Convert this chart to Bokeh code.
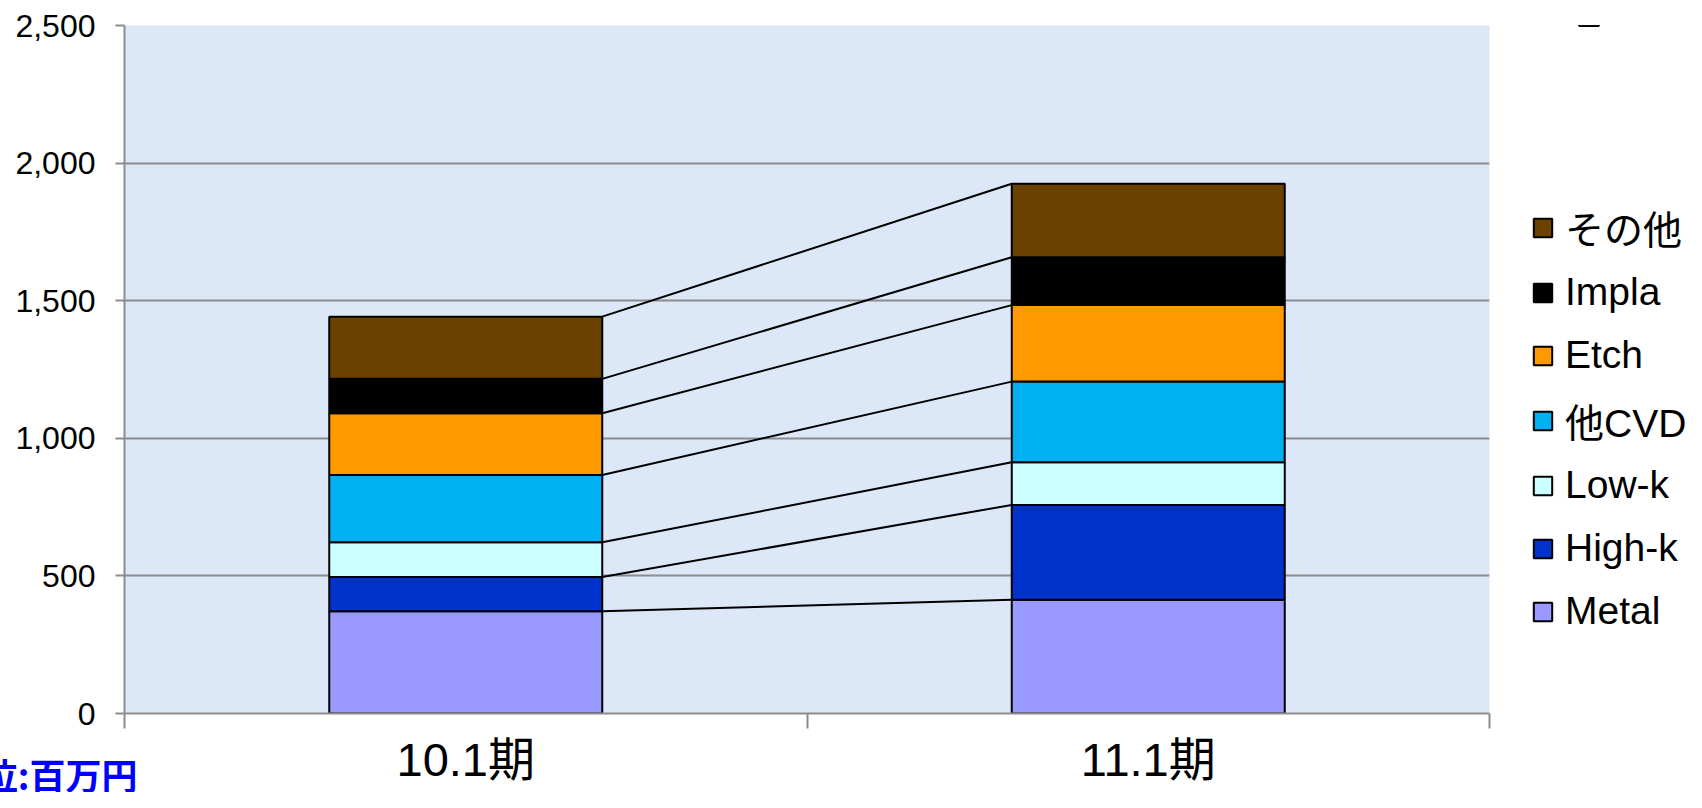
from bokeh.plotting import figure
from bokeh.layouts import row
from bokeh.models import (Range1d, FixedTicker, NumeralTickFormatter, LinearAxis, Label,
                          Legend, LegendItem, ColumnDataSource)
from bokeh.embed import file_html
from bokeh.resources import INLINE

# ---- data ----
categories = ["10.1期", "11.1期"]
series = ["Metal", "High-k", "Low-k", "他CVD", "Etch", "Impla", "その他"]
metal = [372, 413]
high_k = [124, 345]
low_k = [126, 155]
other_cvd = [245, 293]
etch = [224, 278]
impla = [125, 174]
others = [226, 267]
colors = ["#9999FF", "#0033CC", "#CCFFFF", "#00B0F0", "#FF9900", "#000000", "#6B4100"]
y_ticks = [0, 500, 1000, 1500, 2000, 2500]
unit_label = "単位:百万円"

FONT = "Liberation Sans, Noto Sans CJK JP"

values = [metal, high_k, low_k, other_cvd, etch, impla, others]
xpos = [0.5 + i for i in range(len(categories))]
data = {"x": xpos}
for name, vals in zip(series, values):
    data[name] = vals
src = ColumnDataSource(data)

# ---------------- main chart ----------------
p = figure(width=1491, height=792, output_backend="svg", toolbar_location=None,
           x_range=Range1d(0, 2), y_range=Range1d(0, 2500),
           min_border_left=124, min_border_right=2, min_border_top=25,
           min_border_bottom=79)
p.background_fill_color = "#DCE8F7"
p.border_fill_color = "white"
p.outline_line_color = None

renderers = p.vbar_stack(series, x="x", width=0.4, source=src, color=colors,
                         line_color="black", line_width=2)

# connector lines between bar tops of each stacked segment
bw = 0.4
cum = [[0, 0]]
for vals in values:
    cum.append([cum[-1][0] + vals[0], cum[-1][1] + vals[1]])
x0 = [xpos[0] + bw / 2] * len(series)
x1 = [xpos[1] - bw / 2] * len(series)
y0 = [c[0] for c in cum[1:]]
y1 = [c[1] for c in cum[1:]]
p.segment(x0=x0, y0=y0, x1=x1, y1=y1, line_color="black", line_width=2)

# grid
p.xgrid.visible = False
p.ygrid.ticker = FixedTicker(ticks=y_ticks)
p.ygrid.grid_line_color = "#8C8C8C"
p.ygrid.grid_line_width = 2

# y axis
p.yaxis.ticker = FixedTicker(ticks=y_ticks)
p.yaxis.formatter = NumeralTickFormatter(format="0,0")
p.yaxis.major_label_text_font = FONT
p.yaxis.major_label_text_font_size = "32px"
p.yaxis.major_label_text_color = "black"
p.yaxis.major_label_standoff = 20
p.yaxis.major_tick_in = 0
p.yaxis.major_tick_out = 9
p.yaxis.minor_tick_line_color = None
p.yaxis.axis_line_color = "#8C8C8C"
p.yaxis.axis_line_width = 2
p.yaxis.major_tick_line_color = "#8C8C8C"
p.yaxis.major_tick_line_width = 2

# x axis line with tick marks at the category boundaries
p.xaxis.ticker = FixedTicker(ticks=[], minor_ticks=[0, 1, 2])
p.xaxis.major_tick_in = 0
p.xaxis.major_tick_out = 15
p.xaxis.major_tick_line_color = None
p.xaxis.minor_tick_in = 0
p.xaxis.minor_tick_out = 15
p.xaxis.minor_tick_line_color = "#8C8C8C"
p.xaxis.minor_tick_line_width = 2
p.xaxis.axis_line_color = "#8C8C8C"
p.xaxis.axis_line_width = 2

# unit label (partly cut off at the left edge, as in the original)
p.add_layout(Label(x=13, y=7, x_units="screen", y_units="screen", text=unit_label,
                   text_font="Noto Sans CJK JP", text_font_size="36px",
                   text_font_style="bold", text_color="#0000FF",
                   text_align="right", text_baseline="middle"), "below")

# category labels at the bar centres
cat_axis = LinearAxis(ticker=FixedTicker(ticks=xpos),
                      major_label_overrides={x: c for x, c in zip(xpos, categories)},
                      major_label_text_font=FONT, major_label_text_font_size="47px",
                      major_label_text_color="black", major_label_standoff=-48,
                      major_tick_in=0, major_tick_out=0,
                      major_tick_line_color=None, minor_tick_line_color=None,
                      axis_line_color=None)
p.add_layout(cat_axis, "below")

# ---------------- legend panel ----------------
lp = figure(width=195, height=792, output_backend="svg", toolbar_location=None,
            x_range=Range1d(0, 1), y_range=Range1d(0, 1),
            x_axis_location=None, y_axis_location=None,
            min_border_left=0, min_border_right=0, min_border_top=0, min_border_bottom=0)
lp.grid.visible = False
lp.outline_line_color = None
lp.background_fill_color = "white"
lp.border_fill_color = "white"

# legend swatches (their renderers sit far outside the visible range of this panel)
legend_renderers = [lp.vbar(x=[0.5], bottom=[5], top=[6], width=0.1, fill_color=c,
                            line_color="black", line_width=2) for c in colors]
items = [LegendItem(label=name, renderers=[r])
         for name, r in zip(series, legend_renderers)][::-1]
legend = Legend(items=items, location=(40, 76), orientation="vertical",
                glyph_width=23, glyph_height=23, label_height=52, spacing=11,
                label_standoff=11, padding=0, margin=0,
                label_text_font=FONT, label_text_font_size="39px",
                label_text_color="black", border_line_color=None,
                background_fill_alpha=0)
lp.add_layout(legend)

layout = row(p, lp)
open("out.html", "w").write(file_html(layout, INLINE))
